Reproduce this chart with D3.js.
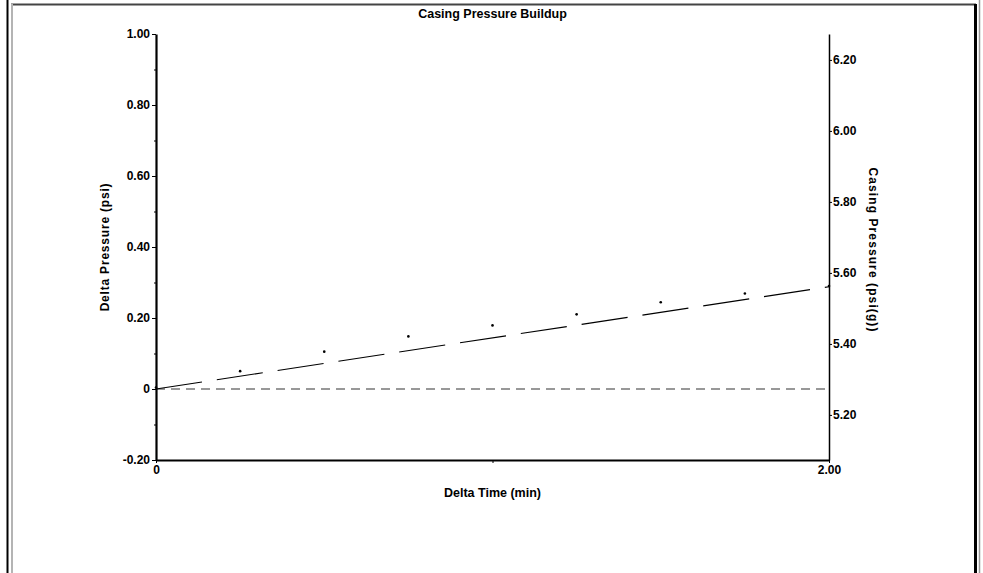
<!DOCTYPE html>
<html>
<head>
<meta charset="utf-8">
<script src="https://cdn.jsdelivr.net/npm/d3@7"></script>
<style>
  body { margin: 0; background: #fff; }
  svg text { font-family: "Liberation Sans", Arial, sans-serif; font-weight: bold; fill: #000; }
</style>
</head>
<body>
<div id="chart"></div>
<script>
// Chart data
var timeMin = [0, 0.25, 0.5, 0.75, 1.0, 1.25, 1.5, 1.75, 2.0];
var deltaPsi = [0, 0.046, 0.101, 0.144, 0.175, 0.206, 0.240, 0.265, 0.286];
var fitTime = [0, 2.0];
var fitDelta = [0, 0.288];
var startCasing = 5.273;
var leftTicks = [-0.2, 0, 0.2, 0.4, 0.6, 0.8, 1.0];
var leftMinor = [-0.1, 0.1, 0.3, 0.5, 0.7, 0.9];
var rightTicks = [5.2, 5.4, 5.6, 5.8, 6.0, 6.2];
var bottomTicks = [0, 1, 2];

// SVG area
var svgWidth = 983;
var svgHeight = 573;

var margin = { top: 34, right: 154, bottom: 113, left: 156 };
var chartWidth = svgWidth - margin.left - margin.right;
var chartHeight = svgHeight - margin.top - margin.bottom;

var svg = d3.select("#chart")
    .append("svg")
    .attr("width", svgWidth)
    .attr("height", svgHeight);

// Window frame round the picture
svg.append("line").attr("x1", 7.5).attr("x2", 7.5).attr("y1", 0).attr("y2", svgHeight)
    .attr("stroke", "#000").attr("stroke-width", 2);
svg.append("line").attr("x1", 11).attr("x2", 976).attr("y1", 4.5).attr("y2", 4.5)
    .attr("stroke", "#444").attr("stroke-width", 2);
svg.append("line").attr("x1", 12).attr("x2", 12).attr("y1", 4).attr("y2", svgHeight)
    .attr("stroke", "#b4b4b4").attr("stroke-width", 2);
svg.append("line").attr("x1", 975.5).attr("x2", 975.5).attr("y1", 4).attr("y2", svgHeight)
    .attr("stroke", "#000").attr("stroke-width", 3);
svg.append("line").attr("x1", 979.5).attr("x2", 979.5).attr("y1", 0).attr("y2", svgHeight)
    .attr("stroke", "#999").attr("stroke-width", 1.5);

var chartGroup = svg.append("g")
    .attr("transform", `translate(${margin.left}, ${margin.top})`);

// Scales
var xScale = d3.scaleLinear().domain([0, 2]).range([0, chartWidth]);
var yLeft = d3.scaleLinear().domain([-0.2, 1.0]).range([chartHeight, 0]);
var yRight = d3.scaleLinear()
    .domain([startCasing - 0.2, startCasing + 1.0])
    .range([chartHeight, 0]);

// Zero reference line
chartGroup.append("line")
    .attr("x1", xScale(0)).attr("x2", xScale(2))
    .attr("y1", yLeft(0)).attr("y2", yLeft(0))
    .attr("stroke", "#333")
    .attr("stroke-width", 1.1)
    .attr("stroke-dasharray", "9,6");

// Fitted build-up line
var line = d3.line()
    .x((d, i) => xScale(fitTime[i]))
    .y(d => yLeft(d));

chartGroup.append("path")
    .datum(fitDelta)
    .attr("d", line)
    .attr("fill", "none")
    .attr("stroke", "#000")
    .attr("stroke-width", 1.1)
    .attr("stroke-dasharray", "46.5,15");

// Measured points
chartGroup.selectAll("circle.pt")
    .data(deltaPsi)
    .enter().append("circle")
    .attr("class", "pt")
    .attr("cx", (d, i) => xScale(timeMin[i]))
    .attr("cy", d => yLeft(d) - 1.5)
    .attr("r", 1.3)
    .attr("fill", "#000");

// Left axis
var leftAxis = d3.axisLeft(yLeft)
    .tickValues(leftTicks)
    .tickSize(4)
    .tickSizeOuter(0)
    .tickPadding(2)
    .tickFormat(d => Math.abs(d) < 1e-9 ? "0" : d.toFixed(2));

var gLeft = chartGroup.append("g").call(leftAxis);
gLeft.select(".domain").attr("stroke-width", 2.2);
gLeft.selectAll("text").style("font-size", "12px");

chartGroup.append("g")
    .call(d3.axisLeft(yLeft).tickValues(leftMinor).tickSize(2).tickSizeOuter(0).tickFormat(""))
    .select(".domain").remove();

// Right axis
var rightAxis = d3.axisRight(yRight)
    .tickValues(rightTicks)
    .tickSize(3)
    .tickSizeOuter(0)
    .tickPadding(1)
    .tickFormat(d3.format(".2f"));

var gRight = chartGroup.append("g")
    .attr("transform", `translate(${chartWidth}, 0)`)
    .call(rightAxis);
gRight.select(".domain").attr("stroke-width", 1.5);
gRight.selectAll("text").style("font-size", "12px");

// Bottom axis
var bottomAxis = d3.axisBottom(xScale)
    .tickValues(bottomTicks)
    .tickSize(3)
    .tickSizeOuter(0)
    .tickPadding(2)
    .tickFormat(d => d === 0 ? "0" : (d === 2 ? "2.00" : ""));

var gBottom = chartGroup.append("g")
    .attr("transform", `translate(0, ${chartHeight})`)
    .call(bottomAxis);
gBottom.select(".domain").attr("stroke-width", 2.2);
gBottom.selectAll("text").style("font-size", "12px");

// Title
svg.append("text")
    .attr("x", margin.left + chartWidth / 2)
    .attr("y", 18)
    .attr("text-anchor", "middle")
    .style("font-size", "12.5px")
    .text("Casing Pressure Buildup");

// X axis label
svg.append("text")
    .attr("x", margin.left + chartWidth / 2)
    .attr("y", 497)
    .attr("text-anchor", "middle")
    .style("font-size", "12.5px")
    .text("Delta Time (min)");

// Left y axis label
svg.append("text")
    .attr("transform", "translate(109, 247) rotate(-90)")
    .attr("text-anchor", "middle")
    .style("font-size", "12px")
    .style("letter-spacing", "0.8px")
    .text("Delta Pressure (psi)");

// Right y axis label
svg.append("text")
    .attr("transform", "translate(869, 250) rotate(90)")
    .attr("text-anchor", "middle")
    .style("font-size", "12px")
    .style("letter-spacing", "1.1px")
    .text("Casing Pressure (psi(g))");
</script>
</body>
</html>
